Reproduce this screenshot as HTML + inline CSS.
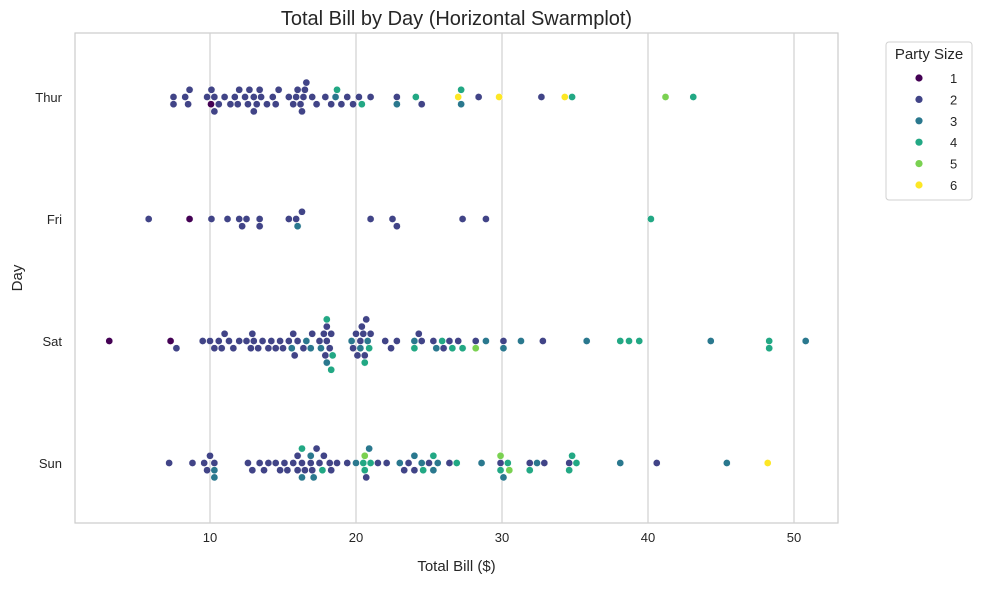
<!DOCTYPE html>
<html><head><meta charset="utf-8"><style>
body{margin:0;background:#fff;font-family:"Liberation Sans",sans-serif}
svg text{font-family:"Liberation Sans",sans-serif;fill:#262626}
</style></head><body>
<svg id="c" width="983" height="584" xmlns="http://www.w3.org/2000/svg"></svg>
<script>
const days = ["Thur","Fri","Sat","Sun"];
const xTicks = [10,20,30,40,50];
const sizeLevels = [1,2,3,4,5,6];
const thurBills = [7.5,7.5,8.3,8.5,8.6,9.8,10.3,10.3,10.6,11.0,11.4,11.9,12.0,12.4,12.6,12.7,13.0,13.0,13.2,13.4,13.5,14.3,14.5,14.7,15.4,15.7,16.0,16.2,16.3,16.5,16.6,17.3,17.9,18.3,19.0,19.4,19.8,20.2,21.0,22.8,24.5,28.4,32.7,10.1,16.4,17.0,15.9,13.9,11.7,10.07,22.8,18.6,27.2,18.7,20.4,24.1,27.2,34.8,43.1,41.2,27.0,29.8,34.3];
const thurSizes = [2,2,2,2,2,2,2,2,2,2,2,2,2,2,2,2,2,2,2,2,2,2,2,2,2,2,2,2,2,2,2,2,2,2,2,2,2,2,2,2,2,2,2,2,2,2,2,2,2,1,3,3,3,4,4,4,4,4,4,5,6,6,6];
const friBills = [5.8,10.1,11.2,12.0,12.2,12.5,13.4,13.4,15.4,15.9,16.3,21.0,22.5,22.8,27.3,28.9,16.0,8.6,40.2];
const friSizes = [2,2,2,2,2,2,2,2,2,2,2,2,2,2,2,2,3,1,4];
const satBills = [3.1,7.3,7.7,9.5,10.0,10.3,10.6,10.8,11.0,11.3,11.6,12.0,12.5,12.8,12.9,13.0,13.3,13.6,14.0,14.2,14.5,14.8,15.0,15.4,15.7,15.8,16.0,16.4,17.0,17.5,17.8,17.9,18.0,18.0,18.2,19.8,20.0,20.1,20.3,20.4,20.5,20.7,21.0,22.0,22.4,22.8,24.3,24.5,25.3,26.0,26.4,27.0,28.2,30.1,32.8,20.6,18.3,16.6,16.9,17.6,18.0,19.7,20.3,20.8,24.0,25.5,28.9,30.1,31.3,35.8,44.3,50.8,15.6,18.0,18.4,20.6,20.9,24.0,25.9,27.3,38.1,38.7,39.4,48.3,48.3,18.3,26.6,28.2];
const satSizes = [1,1,2,2,2,2,2,2,2,2,2,2,2,2,2,2,2,2,2,2,2,2,2,2,2,2,2,2,2,2,2,2,2,2,2,2,2,2,2,2,2,2,2,2,2,2,2,2,2,2,2,2,2,2,2,2,2,3,3,3,3,3,3,3,3,3,3,3,3,3,3,3,3,4,4,4,4,4,4,4,4,4,4,4,4,4,4,5];
const sunBills = [7.2,8.8,9.6,9.8,10.0,10.3,12.6,12.9,13.4,13.7,14.0,14.5,14.8,15.1,15.3,15.7,16.0,16.3,16.5,16.9,17.3,17.5,17.8,18.2,18.3,18.7,19.4,20.7,21.5,22.1,23.3,23.6,24.0,25.0,26.4,29.9,31.9,32.9,34.6,40.6,17.0,16.0,10.3,10.3,16.3,17.1,20.0,20.9,23.0,24.5,25.3,25.6,28.6,30.1,32.4,38.1,45.4,24.0,16.9,16.3,17.7,20.5,20.6,21.0,24.6,25.3,26.9,29.9,30.4,31.9,34.8,35.1,34.6,20.6,29.9,30.5,48.2];
const sunSizes = [2,2,2,2,2,2,2,2,2,2,2,2,2,2,2,2,2,2,2,2,2,2,2,2,2,2,2,2,2,2,2,2,2,2,2,2,2,2,2,2,2,2,3,3,3,3,3,3,3,3,3,3,3,3,3,3,3,3,3,4,4,4,4,4,4,4,4,4,4,4,4,4,4,5,5,5,6];
const bills = [thurBills,friBills,satBills,sunBills];
const sizes = [thurSizes,friSizes,satSizes,sunSizes];
const palette = {1:"#440154",2:"#414487",3:"#2a788e",4:"#22a884",5:"#7ad151",6:"#fde725"};

const svg = document.getElementById('c');
const NS = "http://www.w3.org/2000/svg";
const L=75,R=838,T=33,B=523;
const xScale = v => 64 + v*14.6;
const yScale = i => 97 + i*122;
function mk(tag, attrs, parent){const e=document.createElementNS(NS,tag);for(const k in attrs)e.setAttribute(k,attrs[k]);(parent||svg).appendChild(e);return e;}

const frame = mk('rect',{x:L,y:T,width:R-L,height:B-T,fill:'#fff',stroke:'#cccccc','stroke-width':1.2});


xTicks.forEach(t=>{
  const g = mk('line',{x1:xScale(t),x2:xScale(t),y1:T,y2:B,stroke:'#d0d0d0','stroke-width':1.2});
  
  
  const tx = mk('text',{x:xScale(t),y:B+19,'text-anchor':'middle','font-size':13});
  tx.textContent=t;
  
  
});
days.forEach((d,i)=>{
  const tx = mk('text',{x:62,y:yScale(i)+5,'text-anchor':'end','font-size':13});
  tx.textContent=d;
  
  
});
const title = mk('text',{x:(L+R)/2,y:25,'text-anchor':'middle','font-size':20});
title.textContent='Total Bill by Day (Horizontal Swarmplot)';


const xt = mk('text',{x:(L+R)/2,y:571,'text-anchor':'middle','font-size':15});
xt.textContent='Total Bill ($)';


const yt = mk('text',{x:22,y:(T+B)/2,'text-anchor':'middle','font-size':15,transform:`rotate(-90 22 ${(T+B)/2})`});
yt.textContent='Day';



const D=7.2;
days.forEach((d,i)=>{
  const pts = bills[i].map((v,k)=>({v,s:sizes[i][k]})).sort((a,b)=>a.v-b.v);
  const placed=[];
  pts.forEach(p=>{
    const x=xScale(p.v);
    let best=0;
    const cands=[0];
    for(let n=1;n<12;n++){cands.push(n*D*0.5*1.0);cands.push(-n*D*0.5);}
    for(const off of cands){
      if(placed.every(q=>Math.hypot(q.x-x,q.y-off)>=D)){best=off;break;}
    }
    placed.push({x,y:best,s:p.s});
  });
  placed.forEach(p=>{
    const c = mk('circle',{cx:p.x,cy:yScale(i)+p.y,r:3.6,fill:palette[p.s],stroke:'#fff','stroke-width':0.5});
    
    
  });
});

const lg = mk('g',{});


mk('rect',{x:886,y:42,width:86,height:158,rx:3,fill:'#fff',stroke:'#d0d0d0'},lg);
const lt = mk('text',{x:929,y:59,'text-anchor':'middle','font-size':15},lg);
lt.textContent='Party Size';
sizeLevels.forEach((s,k)=>{
  const y=78+k*21.4;
  const m = mk('circle',{cx:919,cy:y,r:3.6,fill:palette[s]},lg);
  
  
  const t = mk('text',{x:950,y:y+5,'font-size':13},lg);
  t.textContent=s;
  
  
});
</script>
</body></html>
